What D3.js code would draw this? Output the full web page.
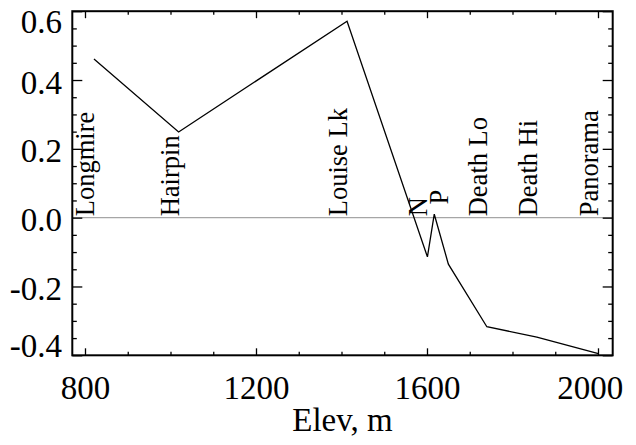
<!DOCTYPE html>
<html>
<head>
<meta charset="utf-8">
<script src="https://cdn.jsdelivr.net/npm/d3@7"></script>
<style>
  body { margin: 0; background: #fff; }
</style>
</head>
<body>
<div id="chart"></div>
<script>
// elevation (m) and value for each point of the line
var elev = [821, 1019, 1413, 1601, 1617, 1650, 1740, 1857, 2001];
var value = [0.461, 0.249, 0.571, -0.114, 0.010, -0.135, -0.317, -0.347, -0.395];

// site labels, written vertically
var siteNames = ["Longmire", "Hairpin", "Louise Lk", "N", "P", "Death Lo", "Death Hi", "Panorama"];
var siteElev = [821, 1019, 1413, 1601, 1650, 1740, 1857, 2001];
var siteY = [0.004, 0.004, 0.004, 0.004, 0.038, 0.004, 0.004, 0.004];

var xMajor = [800, 1200, 1600, 2000];
var xMinor = [900, 1000, 1100, 1300, 1400, 1500, 1700, 1800, 1900];
var yMajor = [-0.4, -0.2, 0.0, 0.2, 0.4, 0.6];
var yMinor = [-0.35, -0.3, -0.25, -0.15, -0.1, -0.05, 0.05, 0.1, 0.15, 0.25, 0.3, 0.35, 0.45, 0.5, 0.55];

var xTitle = "Elev, m";

var SERIF = '"Liberation Serif", "Times New Roman", Times, serif';

drawChart();

function drawChart() {
    var W = 636, H = 445;
    var left = 72.3, right = 612.7, top = 11.2, bottom = 355.3;

    var svg = d3.select("#chart").append("svg")
        .attr("width", W).attr("height", H)
        .style("font-family", SERIF);
    svg.append("rect").attr("width", W).attr("height", H).attr("fill", "#fff");

    var x = d3.scaleLinear().domain([770.3, 2034.4]).range([left, right]);
    var y = d3.scaleLinear().domain([-0.4, 0.6]).range([bottom, top]);

    // zero line
    svg.append("line")
        .attr("x1", left).attr("x2", right)
        .attr("y1", y(0)).attr("y2", y(0))
        .attr("stroke", "#a6a6a6").attr("stroke-width", 1.3);

    // data line
    var pts = elev.map(function (d, i) { return [d, value[i]]; });
    var line = d3.line().x(function (d) { return x(d[0]); }).y(function (d) { return y(d[1]); });
    svg.append("path")
        .attr("d", line(pts))
        .attr("fill", "none").attr("stroke", "#000").attr("stroke-width", 1.3);

    // vertical site labels
    siteNames.forEach(function (name, i) {
        svg.append("text")
            .attr("transform", "translate(" + x(siteElev[i]) + "," + y(siteY[i]) + ") rotate(-90)")
            .style("font-family", SERIF)
            .attr("font-size", 26.5)
            .attr("text-anchor", "start")
            .text(name);
    });

    // axes: ticks point inward
    function addAxis(axis, tx, ty) {
        var g = svg.append("g").attr("transform", "translate(" + tx + "," + ty + ")").call(axis);
        g.attr("font-family", null).style("font-family", SERIF);
        g.select(".domain").remove();
        g.selectAll(".tick line").attr("stroke", "#000").attr("stroke-width", 1.3);
        g.selectAll("text").style("font-family", SERIF).attr("fill", "#000");
        return g;
    }

    var fmtX = function (d) { return String(d); };
    var fmtY = function (d) { return d.toFixed(1); };

    var bx = addAxis(d3.axisBottom(x).tickValues(xMajor).tickSize(-7).tickFormat(fmtX), 0, bottom);
    bx.selectAll("text")
        .attr("font-size", 33)
        .attr("dy", null)
        .attr("y", 44)
        .attr("x", function (d) {
            var c = x(d);
            var half = 33 * String(d).length / 4;
            return Math.min(c, right + 10 - half) - c;
        });
    addAxis(d3.axisBottom(x).tickValues(xMinor).tickSize(-3.5).tickFormat(""), 0, bottom);
    addAxis(d3.axisTop(x).tickValues(xMajor).tickSize(-7).tickFormat(""), 0, top);
    addAxis(d3.axisTop(x).tickValues(xMinor).tickSize(-3.5).tickFormat(""), 0, top);

    var ly = addAxis(d3.axisLeft(y).tickValues(yMajor).tickSize(-10).tickFormat(fmtY), left, 0);
    ly.selectAll("text")
        .attr("font-size", 33)
        .attr("dy", null)
        .attr("x", 62 - left)
        .attr("text-anchor", "end")
        .attr("y", function (d) {
            var t = y(d);
            var base = Math.max(top + 21, Math.min(bottom + 1.5, t + 13));
            return base - t;
        });
    addAxis(d3.axisLeft(y).tickValues(yMinor).tickSize(-4.5).tickFormat(""), left, 0);
    addAxis(d3.axisRight(y).tickValues(yMajor).tickSize(-10).tickFormat(""), right, 0);
    addAxis(d3.axisRight(y).tickValues(yMinor).tickSize(-4.5).tickFormat(""), right, 0);

    // frame
    svg.append("rect")
        .attr("x", left).attr("y", top)
        .attr("width", right - left).attr("height", bottom - top)
        .attr("fill", "none").attr("stroke", "#000").attr("stroke-width", 2);

    // axis title
    svg.append("text")
        .attr("x", (left + right) / 2).attr("y", 431)
        .attr("text-anchor", "middle")
        .style("font-family", SERIF)
        .attr("font-size", 33)
        .text(xTitle);
}
</script>
</body>
</html>
